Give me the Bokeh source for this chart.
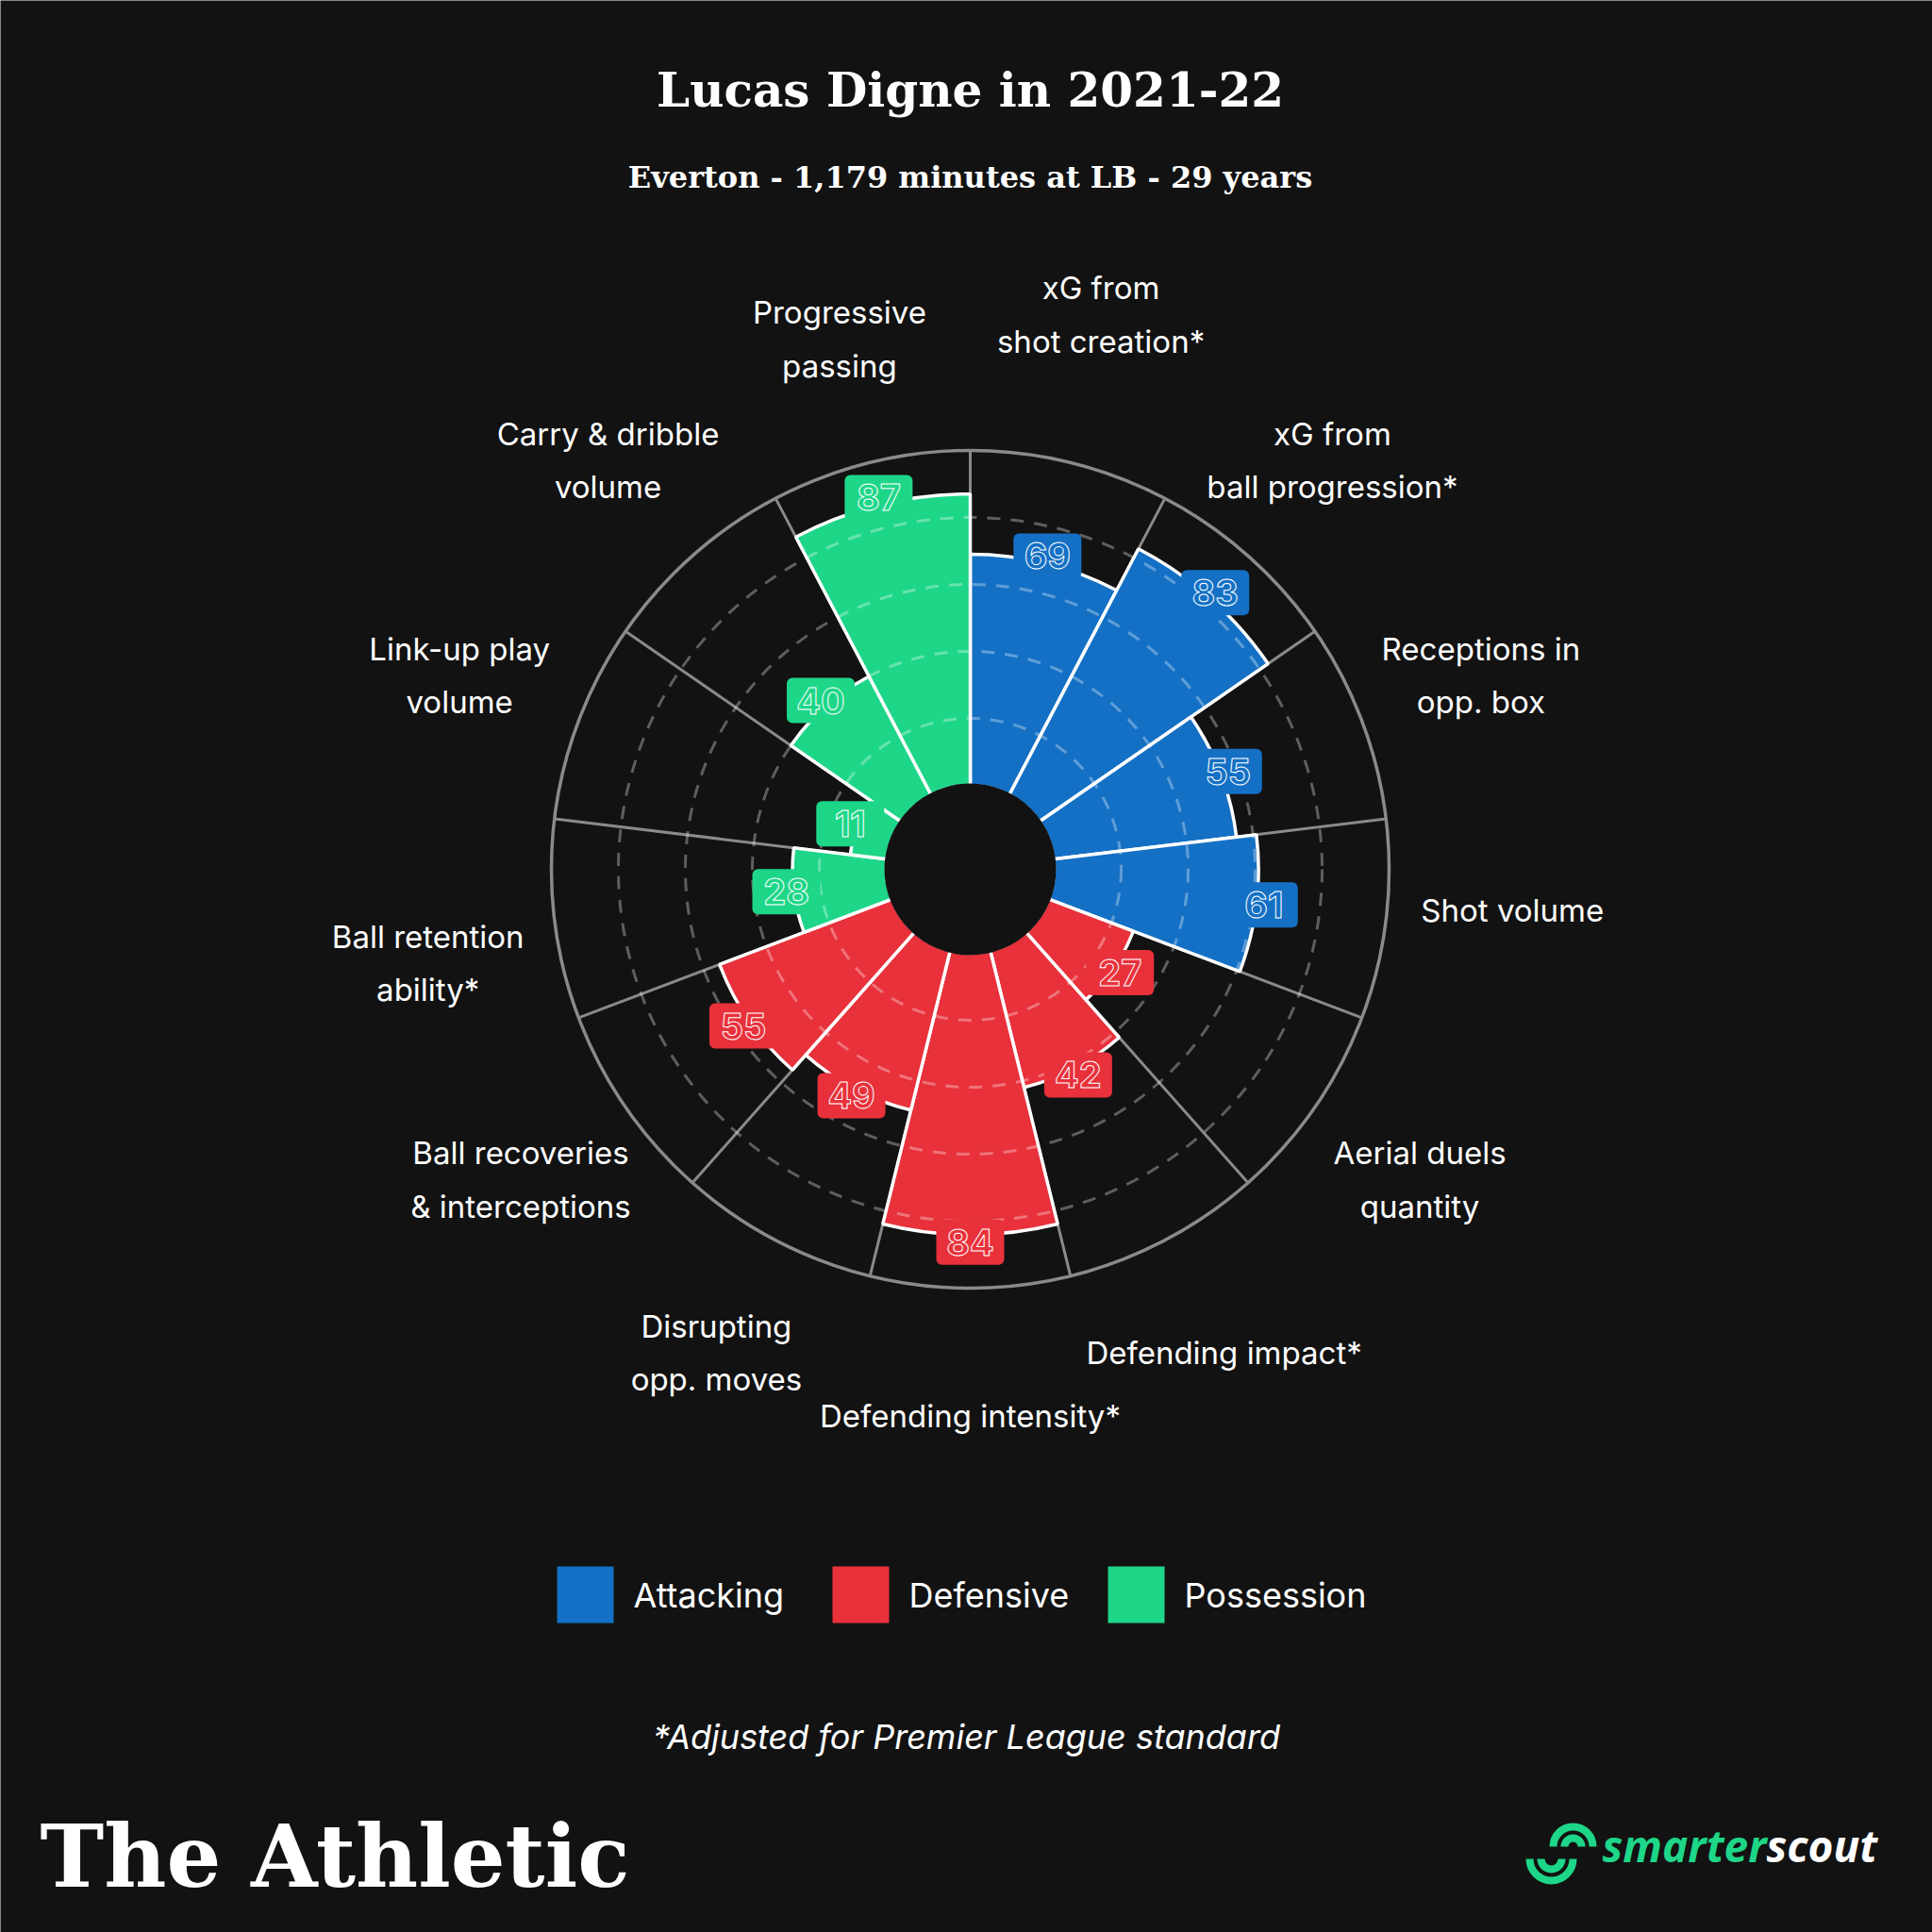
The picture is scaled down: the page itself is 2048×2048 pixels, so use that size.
import numpy as np
from bokeh.plotting import figure
from bokeh.embed import file_html
from bokeh.resources import INLINE
from bokeh.core.properties import value

# ---------------- data ----------------
categories = [
    "xG from\nshot creation*", "xG from\nball progression*", "Receptions in\nopp. box",
    "Shot volume", "Aerial duels\nquantity", "Defending impact*", "Defending intensity*",
    "Disrupting\nopp. moves", "Ball recoveries\n& interceptions", "Ball retention\nability*",
    "Link-up play\nvolume", "Carry & dribble\nvolume", "Progressive\npassing",
]
values = [69, 83, 55, 61, 27, 42, 84, 49, 55, 28, 11, 40, 87]
groups = ["Attacking"] * 4 + ["Defensive"] * 5 + ["Possession"] * 4
group_names = ["Attacking", "Defensive", "Possession"]
group_colors = {"Attacking": "#1470c4", "Defensive": "#e8313b", "Possession": "#1ed688"}
grid_values = [20, 40, 60, 80]

title = "Lucas Digne in 2021-22"
subtitle = "Everton - 1,179 minutes at LB - 29 years"
footnote = "*Adjusted for Premier League standard"

# ---------------- layout ----------------
W = H = 2048
BG = "#121212"
CX, CY = 1028, H - 921
R0, R100 = 89, 444
k = (R100 - R0) / 100.0
n = len(values)
step = 2 * np.pi / n
# small vertical nudges (pixels) for a few labels, as placed in the original layout
label_nudge = {"xG from\nshot creation*": 26, "Shot volume": 26, "Ball retention\nability*": -30}

def rad(v):
    return R0 + k * np.asarray(v, dtype=float)

idx = np.arange(n)
start = np.pi / 2 - (idx + 1) * step
end = np.pi / 2 - idx * step
mid = np.pi / 2 - (idx + 0.5) * step
colors = [group_colors[g] for g in groups]

p = figure(width=W, height=H, x_range=(0, W), y_range=(0, H),
           output_backend="svg", toolbar_location=None,
           x_axis_type=None, y_axis_type=None, min_border=0,
           background_fill_color=BG, border_fill_color=BG, outline_line_color=None)
p.grid.visible = False

# spokes
sp = np.pi / 2 - np.arange(n) * step
p.segment(x0=CX + R0 * np.cos(sp), y0=CY + R0 * np.sin(sp),
          x1=CX + R100 * np.cos(sp), y1=CY + R100 * np.sin(sp),
          line_color="#8a8a8a", line_width=3)
# outer ring
p.circle(x=[CX], y=[CY], radius=[R100], fill_color=None, line_color="#8a8a8a", line_width=3.5)

# bars
p.annular_wedge(x=CX, y=CY, inner_radius=R0, outer_radius=rad(values),
                start_angle=start, end_angle=end, fill_color=colors,
                line_color="white", line_width=3.5)

# dashed grid circles
p.circle(x=[CX] * len(grid_values), y=[CY] * len(grid_values), radius=rad(grid_values),
         fill_color=None, line_color="white", line_alpha=0.32, line_width=3,
         line_dash="14 11")

# centre disk
p.circle(x=[CX], y=[CY], radius=[R0 + 2], fill_color=BG, line_color=None)

# value boxes
rb = rad(values) + 8
bx = CX + rb * np.cos(mid)
by = CY + rb * np.sin(mid)
p.rect(x=bx, y=by, width=72, height=48, fill_color=colors, line_color=None, border_radius=6)
p.text(x=bx, y=by, text=[str(v) for v in values], text_align="center", text_baseline="middle",
       text_font=value("Inter"), text_font_size="38px", text_font_style="bold",
       text_color=colors, text_outline_color="white")

# category labels
rl = 579
lx = CX + rl * np.cos(mid)
ly = CY + rl * np.sin(mid) + np.array([label_nudge.get(c, 0) for c in categories])
p.text(x=lx, y=ly, text=categories,
       text_align="center", text_baseline="middle", text_font=value("Inter"),
       text_font_size="33px", text_color="white", text_line_height=1.41)

# titles
p.text(x=[W / 2 + 4], y=[H - 95], text=[title], text_align="center", text_baseline="middle",
       text_font=value("DejaVu Serif"), text_font_style="bold", text_font_size="50px",
       text_color="white")
p.text(x=[W / 2 + 4], y=[H - 187], text=[subtitle], text_align="center", text_baseline="middle",
       text_font=value("DejaVu Serif"), text_font_style="bold", text_font_size="32px",
       text_color="white")

# legend
leg_x = [620, 912, 1204]
leg_y = H - 1690
p.rect(x=leg_x, y=[leg_y] * 3, width=60, height=60,
       fill_color=[group_colors[g] for g in group_names], line_color=None)
p.text(x=[x + 51 for x in leg_x], y=[leg_y] * 3, text=group_names, text_align="left",
       text_baseline="middle", text_font=value("Inter"), text_font_size="36px", text_color="white")

# footnote
p.text(x=[W / 2], y=[H - 1840], text=[footnote], text_align="center", text_baseline="middle",
       text_font=value("Inter"), text_font_style="italic", text_font_size="36px", text_color="white")

# The Athletic wordmark
p.text(x=[42], y=[81], text=["The Athletic"], text_align="left", text_baseline="alphabetic",
       text_font=value("DejaVu Serif"), text_font_style="bold", text_font_size="91px",
       text_color="white")

# smarterscout logo
GREEN = "#1ed688"
p.text(x=[1872], y=[93], text=["smarter"], text_align="right", text_baseline="alphabetic",
       text_font=value("Open Sans"), text_font_style="bold italic", text_font_size="46px",
       text_color=GREEN)
p.text(x=[1872], y=[93], text=["scout"], text_align="left", text_baseline="alphabetic",
       text_font=value("Open Sans"), text_font_style="bold italic", text_font_size="46px",
       text_color="white")
p.arc(x=[1644, 1644], y=[H - 1970] * 2, radius=[23, 11], start_angle=np.pi, end_angle=2 * np.pi,
      line_color=GREEN, line_width=8)
p.arc(x=[1667, 1667], y=[H - 1957] * 2, radius=[21, 9], start_angle=0, end_angle=np.pi,
      line_color=GREEN, line_width=8)

open("out.html", "w").write(file_html(p, INLINE))
